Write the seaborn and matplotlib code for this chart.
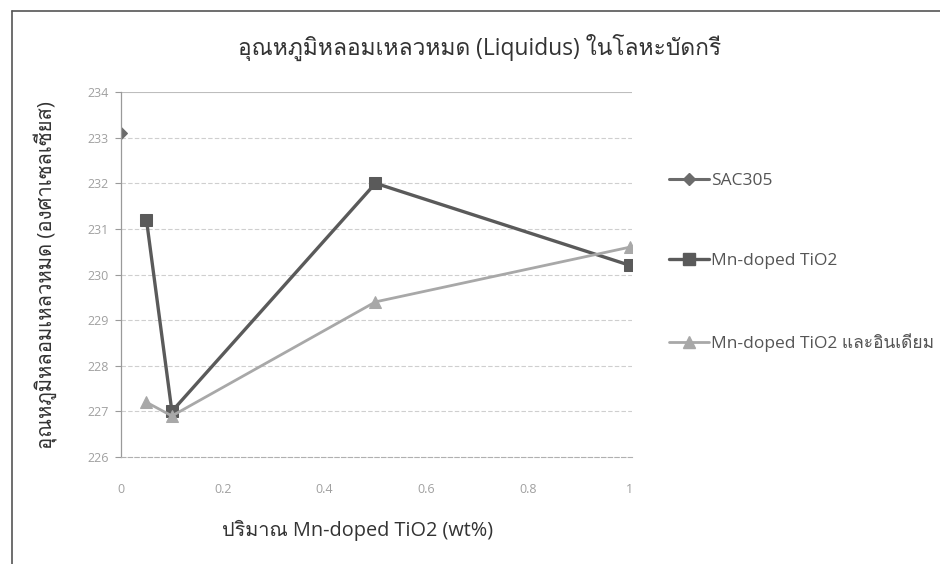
import matplotlib
matplotlib.use("Agg")
import matplotlib.pyplot as plt
from matplotlib import font_manager, ft2font
from matplotlib.lines import Line2D
import numpy as np
import pandas as pd
import seaborn as sns

# ---- data ----
series_names = ["SAC305", "Mn-doped TiO2", "Mn-doped TiO2 และอินเดียม"]
sac_x = [0.0]
sac_y = [233.1]
mn_x = [0.05, 0.1, 0.5, 1.0]
mn_y = [231.2, 227.0, 232.0, 230.2]
mnin_x = [0.05, 0.1, 0.5, 1.0]
mnin_y = [227.2, 226.9, 229.4, 230.6]
x_ticks = [0, 0.2, 0.4, 0.6, 0.8, 1]
x_tick_labels = ["0", "0.2", "0.4", "0.6", "0.8", "1"]
y_ticks = [226, 227, 228, 229, 230, 231, 232, 233, 234]

title = "อุณหภูมิหลอมเหลวหมด (Liquidus) ในโลหะบัดกรี"
x_label = "ปริมาณ Mn-doped TiO2 (wt%)"
y_label = "อุณหภูมิหลอมเหลวหมด (องศาเซลเซียส)"

sns.set_theme(style="white")


def find_font_for(text):
    """Return the family name of an installed font covering every char of text."""
    seen = set()
    for fe in font_manager.fontManager.ttflist:
        if fe.fname in seen:
            continue
        seen.add(fe.fname)
        try:
            cmap = ft2font.FT2Font(fe.fname).get_charmap()
        except Exception:
            continue
        if all(ord(c) in cmap for c in text if not c.isspace()):
            return fe.name
    return None


thai_family = find_font_for("อุณหภูมิหลอมเหลวหมดองศาเซลเซียสปริมาณในโลหะบัดกรีและอินเดียม")
families = ["Open Sans"] + ([thai_family] if thai_family else []) + ["DejaVu Sans"]
plt.rcParams["font.family"] = families

df = pd.DataFrame({
    "x": sac_x + mn_x + mnin_x,
    "y": sac_y + mn_y + mnin_y,
    "series": [series_names[0]] * len(sac_x)
    + [series_names[1]] * len(mn_x)
    + [series_names[2]] * len(mnin_x),
})

palette = {series_names[0]: "#6b6b6b", series_names[1]: "#5a5a5a", series_names[2]: "#a8a8a8"}
markers = {series_names[0]: "D", series_names[1]: "s", series_names[2]: "^"}
msizes = {series_names[0]: 6.5, series_names[1]: 9, series_names[2]: 8.5}
lwidths = {series_names[0]: 2.2, series_names[1]: 2.4, series_names[2]: 2.0}

fig = plt.figure(figsize=(9.4, 5.64), dpi=100)
ax = fig.add_axes([121 / 940, 1 - 457 / 564, (632 - 121) / 940, (457 - 92) / 564])

for name in series_names:
    sub = df[df["series"] == name]
    sns.lineplot(
        data=sub, x="x", y="y", ax=ax, color=palette[name], marker=markers[name],
        markersize=msizes[name], markeredgecolor=palette[name], linewidth=lwidths[name],
        estimator=None, sort=False, legend=False,
    )

ax.set_xlim(0, 1.004)
ax.set_ylim(226, 234)
ax.set_xticks(x_ticks)
ax.set_xticklabels(x_tick_labels)
ax.set_yticks(y_ticks)
ax.tick_params(axis="both", labelsize=9, colors="#9a9a9a", labelcolor="#a0a0a0")
ax.tick_params(axis="x", length=0, pad=19)
ax.tick_params(axis="y", length=4, width=0.8, left=True, direction="out", pad=5, color="#9a9a9a")
for yv in y_ticks[1:-1]:
    ax.axhline(yv, color="#cfcfcf", linewidth=0.8, linestyle=(0, (4, 2)), zorder=0)
ax.axhline(234, color="#bdbdbd", linewidth=0.8, zorder=0)
for s in ["top", "right"]:
    ax.spines[s].set_visible(False)
ax.spines["left"].set_color("#9a9a9a")
ax.spines["left"].set_linewidth(0.9)
ax.spines["bottom"].set_color("#b0b0b0")
ax.spines["bottom"].set_linewidth(0.8)
ax.spines["bottom"].set_linestyle((0, (4, 2)))
ax.set_xlabel("")
ax.set_ylabel("")

# titles and axis labels
fig.text(480 / 940, 1 - 47 / 564, title, ha="center", va="center", fontsize=16.4, color="#333333")
fig.text(358 / 940, 1 - 530 / 564, x_label, ha="center", va="center", fontsize=14.3, color="#333333")
fig.text(46 / 940, 1 - 275 / 564, y_label, ha="center", va="center", rotation=90,
         fontsize=14.6, color="#333333")

# legend
handles = [
    Line2D([], [], color=palette[n], marker=markers[n], markersize=msizes[n],
           linewidth=lwidths[n], markeredgecolor=palette[n])
    for n in series_names
]
fig.legend(handles, series_names, loc="upper left", bbox_to_anchor=(653 / 940, 1 - 157 / 564),
           frameon=False, fontsize=12.5, labelspacing=3.7, handlelength=2.3,
           handletextpad=0.15, labelcolor="#555555")

# outer chart frame
fig.add_artist(Line2D([12 / 940, 12 / 940], [0, 1 - 11 / 564], transform=fig.transFigure,
                      color="#555555", linewidth=1.2))
fig.add_artist(Line2D([12 / 940, 1], [1 - 11 / 564, 1 - 11 / 564], transform=fig.transFigure,
                      color="#555555", linewidth=1.2))

fig.savefig("out.png", dpi=100, facecolor="white")
